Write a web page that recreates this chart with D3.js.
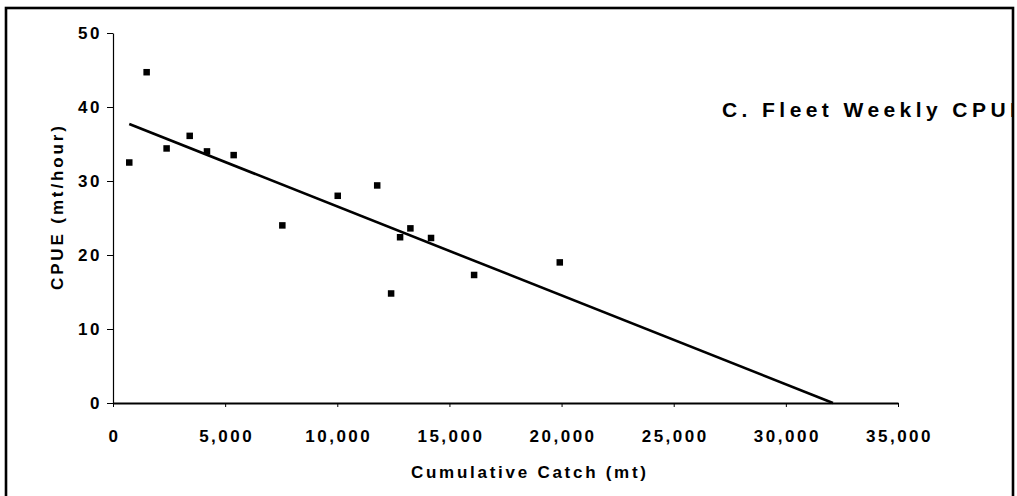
<!DOCTYPE html>
<html>
<head>
<meta charset="utf-8">
<script src="https://cdn.jsdelivr.net/npm/d3@7"></script>
<style>
  body { margin: 0; background: #fff; }
  svg { display: block; font-family: "Liberation Sans", Arial, sans-serif; }
  .tick text { font-weight: bold; font-size: 17px; letter-spacing: 2.5px; fill: #000; }
  .tick line { stroke: #000; }
</style>
</head>
<body>
<div id="container"></div>
<script>
// weekly points
var catchMt = [725, 1500, 2390, 3420, 4190, 5380, 7550, 10020, 11780, 12400, 12800, 13260, 14180, 16100, 19920];
var cpue = [32.5, 44.7, 34.4, 36.1, 34.0, 33.5, 24.0, 28.0, 29.4, 14.8, 22.4, 23.6, 22.3, 17.3, 19.0];

// fitted line end points as drawn
var fitX = [725, 32100];
var fitY = [37.7, 0];

var xTicks = [0, 5000, 10000, 15000, 20000, 25000, 30000, 35000];
var yTicks = [0, 10, 20, 30, 40, 50];

var width = 1017, height = 496;

var svg = d3.select("#container").append("svg")
    .attr("width", width)
    .attr("height", height);

var x = d3.scaleLinear().domain([0, 35000]).range([113, 898]);
var y = d3.scaleLinear().domain([0, 50]).range([403, 33]);

var points = catchMt.map(function(d, i) { return { x: d, y: cpue[i] }; });

// y axis
var yAxis = svg.append("g")
    .attr("transform", "translate(" + x(0) + ",0)")
    .call(d3.axisLeft(y).tickValues(yTicks).tickSize(6).tickPadding(5).tickSizeOuter(0));
yAxis.select(".domain").attr("stroke", "#000").attr("stroke-width", 1.2);
yAxis.selectAll(".tick line").attr("stroke-width", 1);

// x axis
var xAxis = svg.append("g")
    .attr("transform", "translate(0," + y(0) + ")")
    .call(d3.axisBottom(x).tickValues(xTicks).tickSize(4).tickPadding(23).tickSizeOuter(0)
      .tickFormat(d3.format(",")));
xAxis.select(".domain").attr("stroke", "#000").attr("stroke-width", 2.2);
xAxis.selectAll(".tick line").attr("stroke-width", 1);
xAxis.selectAll(".tick text").attr("dx", "1px");

// fitted line
var fit = fitX.map(function(d, i) { return { x: d, y: fitY[i] }; });
svg.append("path")
    .datum(fit)
    .attr("fill", "none")
    .attr("stroke", "#000")
    .attr("stroke-width", 2.6)
    .attr("d", d3.line().x(function(d) { return x(d.x); }).y(function(d) { return y(d.y); }));

// markers
var s = 6.5;
svg.append("g").selectAll("rect")
    .data(points)
    .enter().append("rect")
      .attr("x", function(d) { return x(d.x) - s / 2; })
      .attr("y", function(d) { return y(d.y) - s / 2; })
      .attr("width", s)
      .attr("height", s)
      .attr("fill", "#000");

// axis titles
svg.append("text")
    .attr("transform", "translate(63,208) rotate(-90)")
    .attr("text-anchor", "middle")
    .attr("font-weight", "bold")
    .attr("font-size", 17)
    .attr("textLength", 164)
    .attr("lengthAdjust", "spacing")
    .text("CPUE (mt/hour)");

svg.append("text")
    .attr("x", 411)
    .attr("y", 478)
    .attr("font-weight", "bold")
    .attr("font-size", 17)
    .attr("textLength", 235)
    .attr("lengthAdjust", "spacing")
    .text("Cumulative Catch (mt)");

// panel title, cut by the frame
svg.append("clipPath").attr("id", "frameClip")
  .append("rect").attr("x", 0).attr("y", 0).attr("width", 1012).attr("height", height);

svg.append("text")
    .attr("clip-path", "url(#frameClip)")
    .attr("x", 722)
    .attr("y", 117)
    .attr("font-weight", "bold")
    .attr("font-size", 21)
    .attr("textLength", 302)
    .attr("lengthAdjust", "spacing")
    .text("C.  Fleet Weekly CPUE");

// frame
svg.append("rect")
    .attr("x", 6)
    .attr("y", 8)
    .attr("width", 1007)
    .attr("height", 520)
    .attr("fill", "none")
    .attr("stroke", "#000")
    .attr("stroke-width", 2.6);
</script>
</body>
</html>
